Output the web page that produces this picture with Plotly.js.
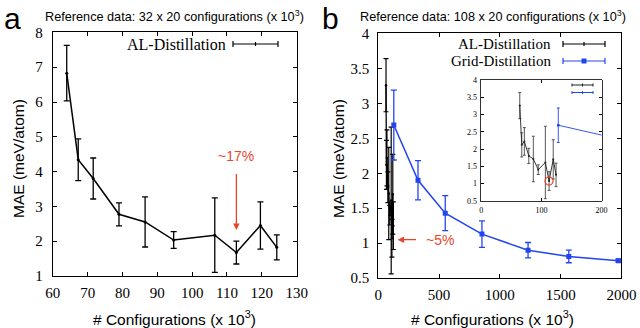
<!DOCTYPE html>
<html>
<head>
<meta charset="utf-8">
<script src="https://cdn.plot.ly/plotly-3.0.1.min.js"></script>
<style>
  html, body { margin: 0; padding: 0; background: #fff; }
  #chart { width: 640px; height: 328px; }
</style>
</head>
<body>
<div id="chart"></div>
<script>
// AL-Distillation: configurations (x 10^3), same picks in both panels
var alConfigs = [64.0, 67.3, 71.6, 79.0, 86.5, 94.7, 106.5, 112.7, 119.6, 124.3];
// panel a: reference data 32 x 20
var alMaeA = [6.83, 4.34, 3.80, 2.77, 2.55, 2.03, 2.17, 1.67, 2.45, 1.82];
var alErrA = [0.80, 0.60, 0.59, 0.33, 0.72, 0.24, 1.07, 0.33, 0.68, 0.36];
// panel b: reference data 108 x 20
var alMaeB = [3.26, 2.12, 2.22, 1.80, 1.71, 1.40, 1.61, 1.07, 1.70, 1.25];
var alErrB = [0.38, 0.35, 0.40, 0.22, 0.66, 0.14, 1.05, 0.27, 0.57, 0.34];
// Grid-Distillation (panel b)
var gridConfigs = [128, 327, 551, 853, 1232, 1567, 1975];
var gridMae = [2.69, 1.90, 1.43, 1.13, 0.90, 0.81, 0.75];
var gridErr = [0.50, 0.28, 0.25, 0.19, 0.11, 0.09, 0.02];
// highlighted point (circled in the inset, arrows in a and b)
var pickIndex = 7;

var black = '#000000';
var blue = '#2244ee';
var red = '#e8452c';
var serif = 'Liberation Serif, Times New Roman, serif';
var sans = 'Liberation Sans, Arial, sans-serif';

function axisStyle(extra) {
  var ax = {
    showline: true, linecolor: black, linewidth: 1,
    mirror: 'ticks', ticks: 'inside', ticklen: 4, tickwidth: 1, tickcolor: black,
    showgrid: false, zeroline: false,
    tickfont: {family: serif, size: 15, color: black},
    ticklabelstandoff: 4
  };
  for (var k in extra) ax[k] = extra[k];
  return ax;
}

// gnuplot-style legend sample: a line with end caps (and a centre mark)
function legendSample(x0, x1, y, color, square) {
  var px = 1 / 640, py = 1 / 328;
  var s = [];
  var ln = {color: color, width: 1.2};
  s.push({type: 'line', xref: 'paper', yref: 'paper', x0: x0, x1: x1, y0: y, y1: y, line: ln});
  s.push({type: 'line', xref: 'paper', yref: 'paper', x0: x0, x1: x0, y0: y - 3 * py, y1: y + 3 * py, line: ln});
  s.push({type: 'line', xref: 'paper', yref: 'paper', x0: x1, x1: x1, y0: y - 3 * py, y1: y + 3 * py, line: ln});
  var xm = (x0 + x1) / 2;
  if (square) {
    s.push({type: 'rect', xref: 'paper', yref: 'paper', x0: xm - 2.5 * px, x1: xm + 2.5 * px,
      y0: y - 2.5 * py, y1: y + 2.5 * py, fillcolor: color, line: {width: 0}});
  } else {
    s.push({type: 'line', xref: 'paper', yref: 'paper', x0: xm, x1: xm, y0: y - 2 * py, y1: y + 2 * py, line: ln});
  }
  return s;
}

function smallSample(x0, x1, y, color) {
  var py = 1 / 328;
  var ln = {color: color, width: 1};
  var xm = (x0 + x1) / 2;
  return [
    {type: 'line', xref: 'paper', yref: 'paper', x0: x0, x1: x1, y0: y, y1: y, line: ln},
    {type: 'line', xref: 'paper', yref: 'paper', x0: x0, x1: x0, y0: y - 1.5 * py, y1: y + 1.5 * py, line: ln},
    {type: 'line', xref: 'paper', yref: 'paper', x0: x1, x1: x1, y0: y - 1.5 * py, y1: y + 1.5 * py, line: ln},
    {type: 'line', xref: 'paper', yref: 'paper', x0: xm, x1: xm, y0: y - 1.5 * py, y1: y + 1.5 * py, line: ln}
  ];
}

function paperText(text, x, y, font, extra) {
  var a = {text: text, x: x, y: y, xref: 'paper', yref: 'paper', xanchor: 'center', yanchor: 'middle',
    showarrow: false, font: font};
  for (var k in extra) a[k] = extra[k];
  return a;
}

var traceA = {
  x: alConfigs, y: alMaeA, xaxis: 'x', yaxis: 'y',
  mode: 'lines+markers', line: {color: black, width: 1.5},
  marker: {color: black, size: 3},
  error_y: {type: 'data', array: alErrA, color: black, thickness: 1.3, width: 3}
};

var traceAlB = {
  x: alConfigs, y: alMaeB, xaxis: 'x2', yaxis: 'y2',
  mode: 'lines+markers', line: {color: black, width: 1.3},
  marker: {color: black, size: 2.5},
  error_y: {type: 'data', array: alErrB, color: black, thickness: 1.2, width: 2.5}
};

var traceGridB = {
  x: gridConfigs, y: gridMae, xaxis: 'x2', yaxis: 'y2',
  mode: 'lines+markers', line: {color: blue, width: 1.5},
  marker: {color: blue, size: 5, symbol: 'square'},
  error_y: {type: 'data', array: gridErr, color: blue, thickness: 1.3, width: 3}
};

var traceAlInset = {
  x: alConfigs, y: alMaeB, xaxis: 'x3', yaxis: 'y3',
  mode: 'lines+markers', line: {color: '#222', width: 0.9},
  marker: {color: '#222', size: 2},
  error_y: {type: 'data', array: alErrB, color: '#444', thickness: 0.9, width: 1.5}
};

var traceGridInset = {
  x: gridConfigs, y: gridMae, xaxis: 'x3', yaxis: 'y3',
  mode: 'lines+markers', line: {color: blue, width: 0.9},
  marker: {color: blue, size: 2.5, symbol: 'square'},
  error_y: {type: 'data', array: gridErr, color: blue, thickness: 0.9, width: 1.5}
};

var tracePick = {
  x: [alConfigs[pickIndex]], y: [alMaeB[pickIndex]], xaxis: 'x3', yaxis: 'y3',
  mode: 'markers',
  marker: {symbol: 'circle-open', size: 8, color: red, line: {color: red, width: 1.3}}
};

var shapes = []
  .concat(legendSample(233 / 640, 278 / 640, 1 - 44 / 328, black, false))
  .concat(legendSample(563 / 640, 605 / 640, 1 - 44 / 328, black, false))
  .concat(legendSample(563 / 640, 605 / 640, 1 - 61 / 328, blue, true))
  .concat(smallSample(572 / 640, 593 / 640, 1 - 85 / 328, '#222'))
  .concat(smallSample(572 / 640, 593 / 640, 1 - 92.5 / 328, blue));

var titleFont = {family: sans, size: 15.5, color: black};
var annotations = [
  paperText('a', 0.019, 0.945, {family: sans, size: 30, color: black}),
  paperText('b', 0.516, 0.945, {family: sans, size: 30, color: black}),
  paperText('Reference data: 32 x 20 configurations (x 10<sup>3</sup>)', 0.272, 0.952,
    {family: sans, size: 12.7, color: black}),
  paperText('Reference data: 108 x 20 configurations (x 10<sup>3</sup>)', 0.770, 0.952,
    {family: sans, size: 12.7, color: black}),
  paperText('MAE (meV/atom)', 0.028, 0.518, titleFont, {textangle: -90}),
  paperText('MAE (meV/atom)', 0.528, 0.518, titleFont, {textangle: -90}),
  paperText('# Configurations (x 10<sup>3</sup>)', 0.272, 0.032, titleFont),
  paperText('# Configurations (x 10<sup>3</sup>)', 0.770, 0.032, titleFont),
  // legend labels
  paperText('AL-Distillation', 228 / 640, 1 - 44 / 328, {family: serif, size: 16, color: black}, {xanchor: 'right'}),
  paperText('AL-Distillation', 553 / 640, 1 - 44 / 328, {family: serif, size: 15, color: black}, {xanchor: 'right'}),
  paperText('Grid-Distillation', 553 / 640, 1 - 61 / 328, {family: serif, size: 15, color: black}, {xanchor: 'right'}),
  // panel a arrow and label
  {text: '', x: alConfigs[pickIndex], y: 2.32, ax: alConfigs[pickIndex], ay: 3.97,
    xref: 'x', yref: 'y', axref: 'x', ayref: 'y', showarrow: true,
    arrowhead: 2, arrowsize: 1, arrowwidth: 1.3, arrowcolor: red},
  {text: '~17%', x: alConfigs[pickIndex], y: 4.45, xref: 'x', yref: 'y', showarrow: false,
    xanchor: 'center', yanchor: 'middle', font: {family: sans, size: 14, color: red}},
  // panel b arrow and label
  {text: '', x: 159, y: 1.05, ax: 323, ay: 1.05, xref: 'x2', yref: 'y2', axref: 'x2', ayref: 'y2',
    showarrow: true, arrowhead: 2, arrowsize: 1, arrowwidth: 1.3, arrowcolor: red},
  {text: '~5%', x: 510, y: 1.05, xref: 'x2', yref: 'y2', showarrow: false,
    xanchor: 'center', yanchor: 'middle', font: {family: sans, size: 14, color: red}}
];

var layout = {
  width: 640, height: 328,
  margin: {l: 0, r: 0, t: 0, b: 0},
  paper_bgcolor: 'white', plot_bgcolor: 'white',
  showlegend: false,
  xaxis: axisStyle({domain: [0.0825, 0.4635], range: [60, 130], tick0: 60, dtick: 10, anchor: 'y', ticklabelstandoff: 3}),
  yaxis: axisStyle({domain: [0.159, 0.901], range: [1, 8], dtick: 1, anchor: 'x', ticklabelstandoff: 6}),
  xaxis2: axisStyle({domain: [0.591, 0.971], range: [0, 2000], dtick: 500, anchor: 'y2', ticklabelstandoff: 3}),
  yaxis2: axisStyle({domain: [0.152, 0.898], range: [0.5, 4], dtick: 0.5, anchor: 'x2', ticklabelstandoff: 5}),
  xaxis3: axisStyle({domain: [0.752, 0.940], range: [0, 200], dtick: 100, anchor: 'y3',
    ticklen: 2.5, tickfont: {family: serif, size: 8, color: black}, ticklabelstandoff: 2, linewidth: 0.8}),
  yaxis3: axisStyle({domain: [0.388, 0.756], range: [0.5, 4], dtick: 0.5, anchor: 'x3',
    ticklen: 2.5, tickfont: {family: serif, size: 8, color: black}, ticklabelstandoff: 2, linewidth: 0.8}),
  shapes: shapes,
  annotations: annotations
};

Plotly.newPlot('chart',
  [traceA, traceAlB, traceGridB, traceAlInset, traceGridInset, tracePick],
  layout, {displayModeBar: false, staticPlot: true});
</script>
</body>
</html>
